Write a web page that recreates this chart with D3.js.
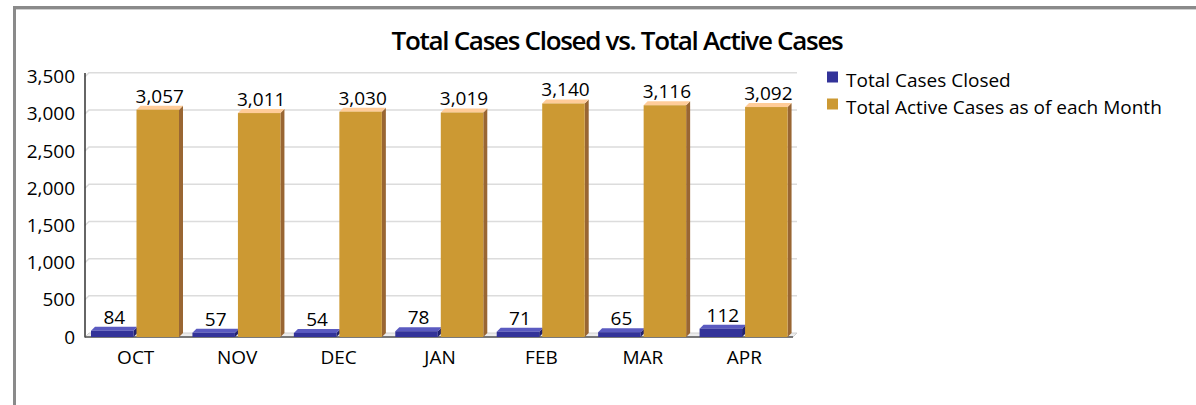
<!DOCTYPE html>
<html><head><meta charset="utf-8">
<script src="https://cdn.jsdelivr.net/npm/d3@7"></script>
<style>body{margin:0;background:#fff}svg{display:block}text{font-family:"Open Sans",sans-serif}</style>
</head><body><svg id="c" width="1196" height="405"></svg>
<script>
const months = ["OCT","NOV","DEC","JAN","FEB","MAR","APR"];
const closed = [84,57,54,78,71,65,112];
const active = [3057,3011,3030,3019,3140,3116,3092];
const seriesNames = ["Total Cases Closed","Total Active Cases as of each Month"];
const yTicks = [0,500,1000,1500,2000,2500,3000,3500];

const svg = d3.select("#c");
const front = ["#333399","#cc9933"], topC = ["#5a5ac0","#ffcc99"], sideC = ["#22226e","#996633"];
const dx = 4, dy = 4;
const FS = 19;

// frame
svg.append("rect").attr("x",14).attr("y",6).attr("width",1190).attr("height",3).attr("fill","#8a8a8a");
svg.append("rect").attr("x",14).attr("y",9).attr("width",1190).attr("height",1).attr("fill","#d0d0d0");
svg.append("rect").attr("x",13).attr("y",6).attr("width",3).attr("height",410).attr("fill","#8a8a8a");

svg.append("text").attr("x",617).attr("y",50).attr("text-anchor","middle")
  .attr("font-size",26).attr("font-weight",600).attr("letter-spacing",-1.3).attr("fill","#000")
  .text("Total Cases Closed vs. Total Active Cases");

const x = d3.scaleBand().domain(months).range([85,795]).padding(0);
const xi = d3.scaleBand().domain([0,1]).range([6,94]).paddingInner(0.066);
const y = d3.scaleLinear().domain([0,3500]).range([337,76.7]);

// gridlines on back wall
const g = svg.append("g");
yTicks.forEach(t=>{
  if(t===0) return;
  g.append("path").attr("d",`M85,${y(t)} L${85+dx},${y(t)-dy} L797,${y(t)-dy}`)
   .attr("fill","none").attr("stroke","#dcdcdc").attr("stroke-width",1.5);
});
// floor
g.append("path").attr("d",`M85,337 L${85+dx},${337-dy} L797,${337-dy} L793,337 Z`).attr("fill","#ececec").attr("stroke","#d0d0d0");
// axes
g.append("line").attr("x1",85).attr("x2",85).attr("y1",73).attr("y2",337.5).attr("stroke","#333").attr("stroke-width",1.5);
g.append("line").attr("x1",85).attr("x2",793).attr("y1",337).attr("y2",337).attr("stroke","#555").attr("stroke-width",1.5);

const yAxis = d3.axisLeft(y).tickValues(yTicks).tickSize(0).tickPadding(10).tickFormat(d3.format(","));
const ya = svg.append("g").attr("transform","translate(85,0)").call(yAxis);
ya.select(".domain").remove();
ya.selectAll("text").attr("font-size",FS).attr("fill","#000").attr("font-family","'Open Sans',sans-serif");

const xAxis = d3.axisBottom(x).tickSize(0).tickPadding(14);
const xa = svg.append("g").attr("transform","translate(0,337)").call(xAxis);
xa.select(".domain").remove();
xa.selectAll("text").attr("font-size",FS).attr("fill","#000").attr("font-family","'Open Sans',sans-serif");

// bars
const data = [closed, active];
data.forEach((vals,s)=>{
  months.forEach((m,i)=>{
    const v = vals[i];
    const x0 = x(m) + xi(s), w = xi.bandwidth(), yt = y(v), yb = y(0);
    const bg = svg.append("g");
    bg.append("path").attr("d",`M${x0+w},${yt} L${x0+w+dx},${yt-dy} L${x0+w+dx},${yb-dy} L${x0+w},${yb} Z`).attr("fill",sideC[s]);
    bg.append("path").attr("d",`M${x0},${yt} L${x0+dx},${yt-dy} L${x0+w+dx},${yt-dy} L${x0+w},${yt} Z`).attr("fill",topC[s]);
    bg.append("rect").attr("x",x0).attr("y",yt).attr("width",w).attr("height",yb-yt).attr("fill",front[s]);
    svg.append("text").attr("x",x0+w/2+2).attr("y",yt-dy-3).attr("text-anchor","middle")
      .attr("font-size",FS).attr("fill","#000").text(d3.format(",")(v));
  });
});

// legend
seriesNames.forEach((n,s)=>{
  svg.append("rect").attr("x",827).attr("y",71.5+s*27).attr("width",11).attr("height",11).attr("fill",front[s]);
  svg.append("text").attr("x",846).attr("y",87+s*27).attr("font-size",FS).attr("fill","#000").text(n);
});
</script></body></html>
